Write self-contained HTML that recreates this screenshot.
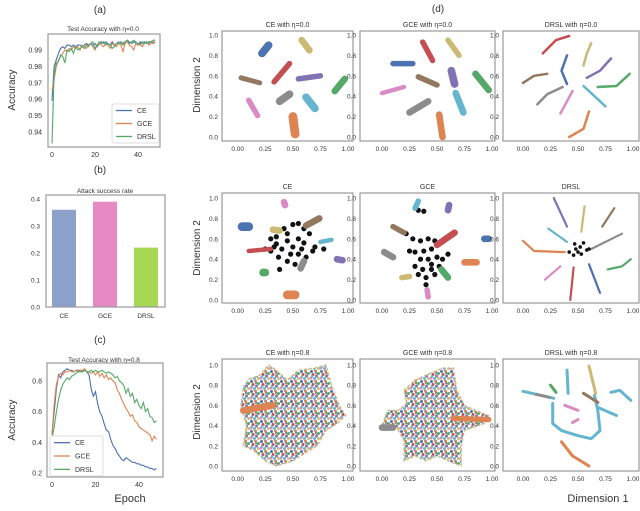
<!DOCTYPE html>
<html><head><meta charset="utf-8"><style>
body{margin:0;background:#fff}
svg{font-family:"Liberation Sans",sans-serif}
</style></head><body>
<svg id="fig" width="640" height="506" viewBox="0 0 640 506" xmlns="http://www.w3.org/2000/svg">
<defs>
<pattern id="mix" width="10" height="10" patternUnits="userSpaceOnUse">
<rect width="10" height="10" fill="#fff"/>
<circle cx="1.5" cy="1.5" r="1.5" fill="#4c72b0"/><circle cx="5.5" cy="1" r="1.5" fill="#dd8452"/>
<circle cx="8.5" cy="3.5" r="1.5" fill="#55a868"/><circle cx="3" cy="4.5" r="1.5" fill="#c44e52"/>
<circle cx="6.5" cy="6" r="1.5" fill="#8172b3"/><circle cx="1" cy="8" r="1.5" fill="#da8bc3"/>
<circle cx="4.5" cy="8.5" r="1.5" fill="#64b5cd"/><circle cx="8.5" cy="8.5" r="1.5" fill="#ccb974"/>
<circle cx="6" cy="3" r="1.2" fill="#8c8c8c"/><circle cx="2" cy="6.5" r="1.2" fill="#64b5cd"/>
</pattern>
</defs>
</svg>
<script>
// ---- panel (a) data ----
const epochsA = [0,1,2,3,4,5,6,7,8,9,10,11,12,13,14,15,16,17,18,19,20,21,22,23,24,25,26,27,28,29,30,31,32,33,34,35,36,37,38,39,40,41,42,43,44,45,46,47,48];
const accA_CE  =[0.959,0.980,0.984,0.988,0.991,0.992,0.991,0.993,0.993,0.992,0.993,0.992,0.993,0.993,0.992,0.993,0.994,0.993,0.994,0.993,0.994,0.992,0.994,0.995,0.994,0.995,0.994,0.993,0.995,0.993,0.994,0.994,0.995,0.994,0.995,0.996,0.995,0.994,0.995,0.994,0.993,0.995,0.994,0.995,0.994,0.995,0.995,0.994,0.995];
const accA_GCE =[0.965,0.972,0.980,0.984,0.986,0.988,0.990,0.989,0.991,0.990,0.992,0.991,0.992,0.990,0.993,0.992,0.991,0.993,0.994,0.992,0.990,0.993,0.994,0.993,0.992,0.994,0.993,0.991,0.994,0.993,0.992,0.994,0.993,0.989,0.994,0.995,0.993,0.992,0.990,0.994,0.993,0.994,0.992,0.994,0.995,0.993,0.994,0.995,0.995];
const accA_DRSL=[0.933,0.975,0.982,0.983,0.987,0.986,0.982,0.990,0.989,0.991,0.988,0.992,0.990,0.991,0.992,0.991,0.993,0.992,0.994,0.995,0.991,0.993,0.995,0.994,0.995,0.993,0.994,0.993,0.991,0.992,0.994,0.995,0.994,0.993,0.995,0.996,0.994,0.995,0.996,0.995,0.994,0.993,0.995,0.994,0.995,0.994,0.995,0.996,0.996];
const ticksAy=[0.94,0.95,0.96,0.97,0.98,0.99];
const ticksX=[0,20,40];
// ---- panel (b) data ----
const catsB=["CE","GCE","DRSL"];
const valsB=[0.36,0.39,0.22];
const ticksBy=[0.0,0.1,0.2,0.3,0.4];
// ---- panel (c) data ----
const accC_CE  =[0.45,0.60,0.75,0.84,0.82,0.86,0.87,0.88,0.87,0.87,0.86,0.87,0.87,0.87,0.86,0.87,0.86,0.84,0.75,0.70,0.73,0.65,0.60,0.57,0.52,0.48,0.47,0.42,0.38,0.36,0.33,0.31,0.29,0.28,0.30,0.29,0.28,0.27,0.27,0.26,0.26,0.25,0.25,0.24,0.24,0.23,0.23,0.22,0.23];
const accC_GCE =[0.45,0.65,0.78,0.83,0.85,0.84,0.86,0.86,0.87,0.86,0.86,0.87,0.86,0.87,0.87,0.88,0.86,0.86,0.85,0.86,0.84,0.86,0.83,0.85,0.82,0.84,0.81,0.82,0.80,0.79,0.74,0.72,0.68,0.65,0.62,0.60,0.57,0.58,0.54,0.53,0.50,0.49,0.48,0.47,0.46,0.45,0.41,0.44,0.42];
const accC_DRSL=[0.42,0.50,0.60,0.68,0.74,0.78,0.80,0.82,0.81,0.83,0.84,0.85,0.86,0.86,0.86,0.87,0.86,0.86,0.87,0.86,0.87,0.86,0.86,0.87,0.86,0.85,0.86,0.85,0.84,0.82,0.83,0.80,0.79,0.77,0.72,0.75,0.70,0.72,0.66,0.68,0.64,0.62,0.66,0.60,0.62,0.57,0.56,0.53,0.54];
const ticksCy=[0.2,0.4,0.6,0.8];
// ---- scatter data ----
const sTicks=[0.0,0.25,0.5,0.75,1.0];
const sTicksY=[0.0,0.2,0.4,0.6,0.8,1.0];
const clusters11=[[0,0.22,0.82,0.28,0.9,0.07],[8,0.58,0.95,0.65,0.85,0.06],[3,0.33,0.54,0.47,0.72,0.05],[4,0.55,0.57,0.75,0.6,0.05],[5,0.03,0.58,0.2,0.53,0.045],[2,0.88,0.45,0.97,0.57,0.06],[6,0.1,0.36,0.18,0.21,0.05],[7,0.38,0.35,0.47,0.42,0.07],[9,0.62,0.39,0.7,0.28,0.07],[1,0.5,0.2,0.52,0.03,0.08]];
const clusters12=[[0,0.1,0.72,0.28,0.72,0.05],[3,0.37,0.93,0.46,0.75,0.05],[8,0.6,0.95,0.7,0.8,0.05],[4,0.63,0.65,0.66,0.52,0.07],[2,0.85,0.62,0.97,0.46,0.06],[5,0.33,0.59,0.5,0.51,0.05],[6,0.0,0.43,0.2,0.49,0.04],[7,0.25,0.24,0.42,0.35,0.06],[9,0.67,0.43,0.74,0.24,0.06],[1,0.52,0.22,0.55,0.0,0.06]];
const curves13=[[3,0.18,0.82,0.3,0.95,0.42,0.99],[8,0.55,0.7,0.58,0.82,0.62,0.92],[0,0.4,0.52,0.35,0.65,0.4,0.8],[4,0.58,0.58,0.7,0.65,0.8,0.77],[5,0.0,0.53,0.1,0.6,0.22,0.62],[2,0.68,0.49,0.85,0.5,0.97,0.62],[7,0.13,0.32,0.22,0.42,0.36,0.49],[6,0.34,0.23,0.4,0.35,0.45,0.45],[9,0.55,0.5,0.65,0.4,0.75,0.3],[1,0.42,0.0,0.55,0.08,0.6,0.25]];
const clusters21=[[6,0.42,0.96,0.43,0.93,0.06],[0,0.04,0.72,0.1,0.72,0.08],[8,0.32,0.69,0.38,0.68,0.06],[5,0.62,0.73,0.74,0.8,0.06],[9,0.75,0.57,0.85,0.59,0.04],[3,0.1,0.48,0.3,0.5,0.04],[4,0.9,0.4,0.95,0.39,0.06],[7,0.57,0.31,0.6,0.38,0.06],[2,0.23,0.27,0.25,0.27,0.07],[1,0.45,0.05,0.52,0.05,0.08]];
const black21=[[0.3,0.6],[0.35,0.55],[0.4,0.5],[0.45,0.58],[0.5,0.52],[0.55,0.6],[0.6,0.56],[0.42,0.7],[0.5,0.74],[0.55,0.75],[0.6,0.7],[0.65,0.65],[0.48,0.45],[0.55,0.45],[0.62,0.42],[0.7,0.52],[0.78,0.5],[0.37,0.42],[0.3,0.48],[0.25,0.5],[0.38,0.3],[0.45,0.38],[0.52,0.35],[0.58,0.5],[0.45,0.65],[0.35,0.62],[0.68,0.48],[0.33,0.52]];
const clusters22=[[9,0.3,0.9,0.33,0.97,0.05],[4,0.6,0.88,0.61,0.93,0.06],[5,0.1,0.72,0.2,0.66,0.05],[3,0.5,0.54,0.66,0.66,0.06],[0,0.93,0.6,0.97,0.6,0.06],[7,0.02,0.47,0.1,0.42,0.06],[1,0.75,0.37,0.86,0.37,0.06],[2,0.54,0.3,0.6,0.22,0.06],[8,0.18,0.22,0.25,0.23,0.05],[6,0.41,0.1,0.42,0.03,0.05]];
const black22=[[0.33,0.88],[0.38,0.87],[0.22,0.65],[0.28,0.6],[0.35,0.58],[0.42,0.6],[0.48,0.58],[0.3,0.47],[0.38,0.48],[0.45,0.5],[0.35,0.4],[0.42,0.4],[0.5,0.42],[0.55,0.4],[0.3,0.33],[0.37,0.3],[0.45,0.3],[0.52,0.33],[0.33,0.25],[0.4,0.22],[0.45,0.35],[0.25,0.48],[0.4,0.15],[0.6,0.45],[0.48,0.25]];
const lines23=[[4,0.28,1.0,0.4,0.72],[8,0.56,0.92,0.53,0.67],[5,0.83,0.9,0.72,0.72],[9,0.23,0.7,0.4,0.57],[7,0.9,0.65,0.62,0.5],[1,0.0,0.58,0.1,0.48,0.38,0.47],[2,0.77,0.3,0.9,0.33,0.98,0.4],[6,0.2,0.2,0.34,0.33],[3,0.43,0.0,0.46,0.32],[0,0.6,0.35,0.7,0.07]];
const black23=[[0.5,0.47],[0.48,0.5],[0.53,0.45],[0.46,0.44],[0.52,0.52],[0.58,0.49],[0.42,0.47],[0.55,0.56],[0.47,0.55],[0.6,0.5]];
const blob31=[[0.05,0.78],[0.1,0.86],[0.2,0.9],[0.28,1.0],[0.35,0.95],[0.45,0.85],[0.55,0.95],[0.7,0.97],[0.8,1.0],[0.85,0.8],[0.92,0.6],[0.98,0.5],[0.9,0.42],[0.8,0.35],[0.72,0.2],[0.6,0.12],[0.5,0.05],[0.35,0.0],[0.25,0.05],[0.15,0.15],[0.05,0.2],[0.08,0.4],[0.03,0.6]];
const streak31=[[1,0.05,0.55,0.32,0.6,0.06]];
const blob32=[[0.2,0.75],[0.3,0.85],[0.4,0.9],[0.55,0.97],[0.65,0.97],[0.68,0.75],[0.75,0.6],[0.85,0.55],[0.97,0.5],[0.93,0.42],[0.75,0.35],[0.72,0.2],[0.72,0.0],[0.6,0.05],[0.5,0.1],[0.4,0.05],[0.3,0.1],[0.2,0.05],[0.2,0.25],[0.15,0.35],[0.0,0.4],[0.05,0.55],[0.15,0.55],[0.22,0.62]];
const streak32=[[1,0.65,0.47,0.97,0.46,0.05],[7,0.0,0.38,0.1,0.38,0.06]];
const lines33=[[9,0.27,0.62,0.27,0.42,0.35,0.35,0.5,0.3,0.62,0.27,0.7,0.35,0.68,0.55,0.65,0.7],[8,0.6,0.99,0.66,0.72],[9,0.0,0.74,0.28,0.67],[7,0.12,0.71,0.24,0.68],[2,0.25,0.8,0.3,0.73],[9,0.4,0.95,0.41,0.72],[5,0.55,0.72,0.68,0.63],[6,0.38,0.6,0.5,0.55],[9,0.68,0.58,0.85,0.5],[9,0.8,0.73,0.88,0.75,0.98,0.65],[6,0.45,0.43,0.5,0.46],[1,0.35,0.24,0.45,0.1,0.6,0.0]];

const pal=["#4c72b0","#dd8452","#55a868","#c44e52","#8172b3","#937860","#da8bc3","#8c8c8c","#ccb974","#64b5cd"];
const NS="http://www.w3.org/2000/svg";
const svg=document.getElementById('fig');
function mk(tag,attrs,parent,txt){const e=document.createElementNS(NS,tag);for(const k in attrs)e.setAttribute(k,attrs[k]);if(txt!==undefined)e.textContent=txt;(parent||svg).appendChild(e);return e;}
function lin(d0,d1,p0,p1){return v=>p0+(v-d0)/(d1-d0)*(p1-p0);}

function box(x0,y0,x1,y1,name){
  const r=mk('rect',{x:x0,y:y0,width:x1-x0,height:y1-y0,fill:'none',stroke:'#9a9a9a','stroke-width':1.2});
  
  
}
function txt(x,y,s,size,anchor,name,extra){
  const t=mk('text',Object.assign({x:x,y:y,'font-size':size,'text-anchor':anchor||'middle',fill:'#333'},extra||{}),svg,s);
  
  
  return t;
}
function lineSeries(xs,ys,X,Y,color,name){
  const pts=ys.map((v,i)=>X(xs[i]).toFixed(1)+','+Y(v).toFixed(1)).join(' ');
  const p=mk('polyline',{points:pts,fill:'none',stroke:color,'stroke-width':1.1});
  
  
}
function legend(x,y,w,h,names,colors,name){
  const g=mk('g',{});
  
  
  mk('rect',{x:x,y:y,width:w,height:h,fill:'#fff',stroke:'#ddd',rx:2},g);
  names.forEach((n,i)=>{const yy=y+h*(i+0.5)/names.length;
    mk('line',{x1:x+4,x2:x+20,y1:yy,y2:yy,stroke:colors[i],'stroke-width':1.3},g);
    const t=mk('text',{x:x+25,y:yy+2.5,'font-size':7,fill:'#333'},g,n);
    
    });
}

// ===== panel a =====
txt(100,13,'(a)',10,'middle','panel-a-label');
txt(103,31,'Test Accuracy with η=0.0',6.5,'middle','panel-a-title');
{const X=lin(0,40,52,138),Y=lin(0.94,0.99,132,50);
 box(48,34,160,147,'panel-a-axes');
 ticksAy.forEach(v=>txt(42,Y(v)+2.5,v.toFixed(2),7,'end','y-tick'));
 ticksX.forEach(v=>txt(X(v),157,String(v),7,'middle','x-tick'));
 lineSeries(epochsA,accA_CE,X,Y,pal[0],'line-ce');
 lineSeries(epochsA,accA_GCE,X,Y,pal[1],'line-gce');
 lineSeries(epochsA,accA_DRSL,X,Y,pal[2],'line-drsl');
 legend(112,104,47,39,['CE','GCE','DRSL'],[pal[0],pal[1],pal[2]],'panel-a-legend');}
txt(15,90,'Accuracy',10,'middle','panel-a-y-title',{transform:'rotate(-90 15 90)'});

// ===== panel b =====
txt(100,173,'(b)',10,'middle','panel-b-label');
txt(105,193,'Attack success rate',6.5,'middle','panel-b-title');
{const Y=lin(0,0.4,307,199);const cx=[64,105,146];const colB=['#8da0cb','#e78ac3','#a6d854'];
 ticksBy.forEach(v=>txt(40,Y(v)+2.5,v.toFixed(1),6.5,'end','y-tick'));
 valsB.forEach((v,i)=>{const r=mk('rect',{x:cx[i]-12,y:Y(v),width:24,height:Y(0)-Y(v),fill:colB[i]});
   
   
   txt(cx[i],318,catsB[i],6.5,'middle','x-tick');});
 box(46,195,165,307,'panel-b-axes');}

// ===== panel c =====
txt(100,343,'(c)',10,'middle','panel-c-label');
txt(104,362,'Test Accuracy with η=0.8',6.5,'middle','panel-c-title');
{const X=lin(0,40,52,139),Y=lin(0.2,0.8,473,381);
 box(47,363,163,477,'panel-c-axes');
 ticksCy.forEach(v=>txt(42,Y(v)+2.5,v.toFixed(1),7,'end','y-tick'));
 ticksX.forEach(v=>txt(X(v),487,String(v),7,'middle','x-tick'));
 lineSeries(epochsA,accC_CE,X,Y,pal[0],'line-ce');
 lineSeries(epochsA,accC_GCE,X,Y,pal[1],'line-gce');
 lineSeries(epochsA,accC_DRSL,X,Y,pal[2],'line-drsl');
 legend(50,436,53,40,['CE','GCE','DRSL'],[pal[0],pal[1],pal[2]],'panel-c-legend');}
txt(15,420,'Accuracy',10,'middle','panel-c-y-title',{transform:'rotate(-90 15 420)'});
txt(130,502,'Epoch',11,'middle','x-axis-title-epoch');

// ===== scatter panels =====
txt(438,12,'(d)',10,'middle','panel-d-label');
const cols=[[222,353,237.7,348],[360,495,382,492],[503,639,523,633]];
const rows=[[31,141,137,35],[193,303,300,198],[359,471,466,365]];
const titles=[['CE with η=0.0','GCE with η=0.0','DRSL with η=0.0'],['CE','GCE','DRSL'],['CE with η=0.8','GCE with η=0.8','DRSL with η=0.8']];
function panel(r,c){
  const [bx0,bx1,dx0,dx1]=cols[c],[by0,by1,dy0,dy1]=rows[r];
  const X=lin(0,1,dx0,dx1),Y=lin(0,1,dy0,dy1);
  txt((bx0+bx1)/2,by0-4,titles[r][c],7,'middle','scatter-title');
  sTicks.forEach(v=>txt(X(v),by1+10,v.toFixed(2),6.5,'middle','x-tick'));
  sTicksY.forEach(v=>txt(bx0-4,Y(v)+2.5,v.toFixed(1),6.5,'end','y-tick'));
  return {X,Y,box:()=>box(bx0,by0,bx1,by1,'scatter-axes-'+r+'-'+c),k:(dx1-dx0)};
}
function seg(P,list,name,fixedW){
  list.forEach(a=>{const w=fixedW?fixedW:a[5]*P.k;const coords=fixedW?a.slice(1):a.slice(1,5);
    const pts=[];for(let i=0;i<coords.length;i+=2)pts.push(P.X(coords[i]).toFixed(1)+','+P.Y(coords[i+1]).toFixed(1));
    const p=mk('polyline',{points:pts.join(' '),fill:'none',stroke:pal[a[0]],'stroke-width':w,'stroke-linecap':'round','stroke-linejoin':'round'});
    
    });
}
function dots(P,list,r,color,name){
  list.forEach(a=>{const d=mk('circle',{cx:P.X(a[0]),cy:P.Y(a[1]),r:r,fill:color});
    
    });
}
function blob(P,list,name){
  const p=mk('polygon',{points:list.map(a=>P.X(a[0]).toFixed(1)+','+P.Y(a[1]).toFixed(1)).join(' '),fill:'url(#mix)',stroke:'#d0c090','stroke-width':1.5,'stroke-dasharray':'3 2','stroke-linejoin':'round'});
  
  
}
let P;
P=panel(0,0);seg(P,clusters11,'cluster');P.box();
P=panel(0,1);seg(P,clusters12,'cluster');P.box();
P=panel(0,2);seg(P,curves13,'cluster-curve',2.5);P.box();
P=panel(1,0);dots(P,black21,2.6,'#111','adversarial-point');seg(P,clusters21,'cluster');P.box();
P=panel(1,1);dots(P,black22,2.6,'#111','adversarial-point');seg(P,clusters22,'cluster');P.box();
P=panel(1,2);seg(P,lines23,'cluster-curve',2.2);dots(P,black23,1.8,'#111','adversarial-point');P.box();
P=panel(2,0);blob(P,blob31,'mixed-cloud');seg(P,streak31,'cluster');P.box();
P=panel(2,1);blob(P,blob32,'mixed-cloud');seg(P,streak32,'cluster');P.box();
P=panel(2,2);seg(P,lines33,'cluster-curve',3);P.box();
txt(200,85,'Dimension 2',10,'middle','y-axis-title-row1',{transform:'rotate(-90 200 85)'});
txt(200,248,'Dimension 2',10,'middle','y-axis-title-row2',{transform:'rotate(-90 200 248)'});
txt(200,412,'Dimension 2',10,'middle','y-axis-title-row3',{transform:'rotate(-90 200 412)'});
txt(598,502,'Dimension 1',11,'middle','x-axis-title-dimension1');
</script>
</body></html>
